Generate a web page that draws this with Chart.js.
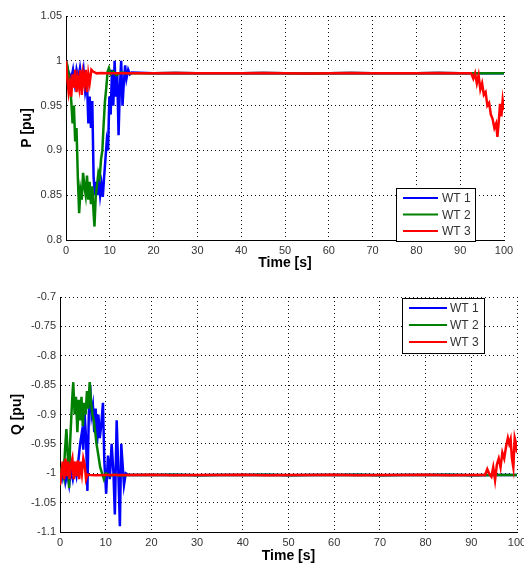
<!DOCTYPE html>
<html>
<head>
<meta charset="utf-8">
<script src="https://cdn.jsdelivr.net/npm/chart.js@4.4.0/dist/chart.umd.min.js"></script>
<style>
  body { margin: 0; background: #fff; overflow: hidden; width: 524px; height: 565px; }
  #grafico-p { position: absolute; left: 0; top: 0; }
  #grafico-q { position: absolute; left: 0; top: 280px; }
</style>
</head>
<body>
<canvas id="grafico-p" width="540" height="280"></canvas>
<canvas id="grafico-q" width="540" height="285"></canvas>
<script>
// series (tiempo en s, valores en pu)
var nombres = ['WT 1', 'WT 2', 'WT 3'];
var colores = ['#0000ff', '#008000', '#ff0000'];

var tP1 = [0,0.4,0.8,1.2,1.6,2,2.4,2.8,3.2,3.6,4,4.4,4.8,5.1,5.4,5.7,6,6.3,6.6,6.9,7.2,7.5,7.8,8.1,8.4,8.7,9,9.3,9.6,9.9,10.2,10.5,10.8,11.1,11.4,11.7,12,12.3,12.6,12.9,13.2,13.5,13.8,14.2,14.6,15,20,25,30,35,40,45,50,55,60,65,70,75,80,85,90,95,100];
var p1 = [1.0,0.99,0.985,0.98,0.99,0.975,0.99,0.98,0.992,0.978,0.99,0.965,0.975,0.93,0.96,0.925,0.955,0.87,0.85,0.865,0.85,0.868,0.85,0.862,0.848,0.87,0.89,0.91,0.9,0.96,0.94,0.99,0.95,1.0,0.96,0.985,0.917,0.97,1.0,0.95,0.975,0.995,0.98,0.99,0.985,0.987,0.986,0.9865,0.986,0.9862,0.986,0.9865,0.986,0.9858,0.986,0.9864,0.986,0.9862,0.986,0.9865,0.986,0.9862,0.986];

var tP2 = [0,0.3,0.6,0.9,1.2,1.5,1.8,2.1,2.4,2.7,3,3.3,3.6,3.9,4.2,4.5,4.8,5.1,5.4,5.7,6,6.3,6.5,6.8,7.1,7.4,7.7,8,8.3,8.6,8.9,9.2,9.5,9.8,10.2,10.8,11.5,12.5,14,20,25,30,35,40,45,50,55,60,65,70,75,80,85,90,95,100];
var p2 = [1.0,0.995,0.985,0.975,0.955,0.93,0.95,0.91,0.925,0.87,0.83,0.855,0.845,0.875,0.86,0.85,0.872,0.845,0.865,0.84,0.86,0.83,0.815,0.85,0.862,0.875,0.87,0.89,0.9,0.93,0.955,0.97,0.988,0.992,0.985,0.988,0.984,0.987,0.986,0.986,0.9865,0.986,0.9862,0.986,0.9865,0.986,0.9858,0.986,0.9864,0.986,0.9862,0.986,0.9865,0.986,0.9862,0.986];

var tP3 = [0,0.3,0.6,0.9,1.2,1.5,1.8,2.1,2.4,2.7,3,3.3,3.6,3.9,4.2,4.5,4.8,5.1,5.4,5.8,6.2,7,8,10,15,20,25,30,35,40,45,50,55,60,65,70,75,80,85,90,92.5,93,93.4,93.8,94.2,94.6,95,95.4,95.8,96.2,96.6,97,97.4,97.8,98.2,98.5,98.8,99.1,99.4,99.7,100];
var p3 = [1.0,0.98,0.965,0.975,0.96,0.985,0.97,0.99,0.965,0.98,0.97,0.99,0.962,0.985,0.975,0.99,0.965,0.985,0.975,0.99,0.988,0.986,0.9865,0.986,0.9862,0.986,0.9865,0.986,0.9862,0.986,0.9865,0.986,0.9858,0.986,0.9864,0.986,0.9862,0.986,0.9865,0.986,0.986,0.98,0.986,0.975,0.984,0.968,0.975,0.962,0.965,0.95,0.953,0.94,0.935,0.925,0.93,0.915,0.932,0.952,0.938,0.956,0.945];

var tQ1 = [0,0.4,0.8,1.2,1.6,2,2.4,2.8,3.2,3.6,4,4.4,4.8,5.1,5.4,5.7,6,6.3,6.6,6.9,7.2,7.5,7.8,8.1,8.4,8.7,9,9.4,9.7,10.1,10.5,10.9,11.3,11.7,12,12.4,12.7,13.1,13.4,13.7,14,14.4,15,20,25,30,35,40,45,50,55,60,65,70,75,80,85,90,95,100];
var q1 = [-1.0,-1.01,-0.99,-1.015,-1.0,-1.02,-0.995,-1.01,-0.99,-1.005,-0.98,-0.95,-0.93,-0.96,-0.9,-0.94,-1.03,-0.9,-0.85,-0.9,-0.885,-0.93,-0.89,-0.95,-0.9,-0.94,-0.92,-0.88,-0.98,-1.035,-0.97,-1.01,-0.95,-1.0,-1.07,-0.91,-0.98,-1.09,-0.95,-0.985,-1.02,-1.0,-1.003,-1.003,-1.0025,-1.0035,-1.003,-1.003,-1.0025,-1.0035,-1.003,-1.003,-1.0025,-1.0035,-1.003,-1.003,-1.0025,-1.0035,-1.003,-1.003];

var tQ2 = [0,0.4,0.8,1.1,1.4,1.7,2,2.2,2.5,2.7,2.9,3.2,3.5,3.8,4.1,4.4,4.7,5,5.3,5.6,5.9,6.2,6.5,6.8,7.1,7.4,7.7,8,8.4,8.8,9.2,9.6,10,11,12,13,15,20,25,30,35,40,45,50,55,60,65,70,75,80,85,90,95,100];
var q2 = [-1.0,-0.99,-1.005,-0.96,-0.925,-0.97,-1.025,-0.95,-0.9,-0.87,-0.845,-0.9,-0.87,-0.93,-0.875,-0.91,-0.87,-0.92,-0.88,-0.9,-0.86,-0.89,-0.845,-0.88,-0.9,-0.91,-0.93,-0.95,-0.97,-0.99,-1.0,-1.01,-1.0,-1.004,-1.002,-1.004,-1.003,-1.003,-1.0025,-1.0035,-1.003,-1.003,-1.0025,-1.0035,-1.003,-1.003,-1.0025,-1.0035,-1.003,-1.003,-1.0025,-1.0035,-1.003,-1.003];

var tQ3 = [0,0.3,0.6,0.9,1.2,1.5,1.8,2.1,2.4,2.7,3,3.3,3.6,3.9,4.2,4.5,4.8,5.1,5.4,5.7,6,6.5,8,10,15,20,25,30,35,40,45,50,55,60,65,70,75,80,85,90,93,93.5,94,94.4,94.8,95.2,95.6,96,96.4,96.8,97.2,97.6,98,98.3,98.6,98.9,99.2,99.5,99.8,100];
var q3 = [-1.02,-1.0,-0.98,-1.01,-0.975,-1.005,-0.98,-1.01,-0.985,-0.975,-1.01,-0.98,-1.005,-0.978,-1.01,-0.98,-1.0,-0.975,-0.985,-1.01,-1.002,-1.003,-1.0035,-1.003,-1.003,-1.0025,-1.0035,-1.003,-1.003,-1.0025,-1.0035,-1.003,-1.003,-1.0025,-1.0035,-1.003,-1.003,-1.0025,-1.0035,-1.003,-1.003,-0.993,-1.002,-1.006,-0.99,-1.012,-0.985,-0.975,-0.99,-0.965,-0.975,-0.955,-0.94,-0.95,-0.942,-0.975,-0.99,-0.94,-0.95,-0.965];

var ticksX = [0,10,20,30,40,50,60,70,80,90,100];

function pares(t, v) {
  var out = [];
  for (var i = 0; i < Math.min(t.length, v.length); i++) out.push({x: t[i], y: v[i]});
  return out;
}

function series(listas) {
  return listas.map(function(par, i) {
    return {
      label: nombres[i],
      data: pares(par[0], par[1]),
      borderColor: colores[i],
      borderWidth: 2.5,
      pointRadius: 0,
      fill: false,
      tension: 0,
      order: 3 - i   // WT 3 queda encima, como en matlab
    };
  });
}

// leyenda dentro del area del grafico, estilo matlab
var cajaLeyenda = {
  id: 'cajaLeyenda',
  afterDraw: function(chart, args, o) {
    var ctx = chart.ctx;
    ctx.save();
    ctx.fillStyle = '#fff';
    ctx.fillRect(o.x, o.y, o.w, o.h);
    ctx.strokeStyle = '#000';
    ctx.lineWidth = 1;
    ctx.strokeRect(o.x + 0.5, o.y + 0.5, o.w, o.h);
    ctx.font = '12px "Liberation Sans", Arial, sans-serif';
    ctx.textBaseline = 'middle';
    chart.data.datasets.forEach(function(ds, i) {
      var yy = o.y + o.first + i * o.gap;
      ctx.strokeStyle = ds.borderColor;
      ctx.lineWidth = 2;
      ctx.beginPath();
      ctx.moveTo(o.x + 7, yy);
      ctx.lineTo(o.x + 7 + o.len, yy);
      ctx.stroke();
      ctx.fillStyle = '#333';
      ctx.fillText(ds.label, o.x + o.textX, yy + 1);
    });
    ctx.restore();
  }
};

function ejes(ymin, ymax, anchoY, altoX, padTituloY, padTituloX, tituloY) {
  var fuenteTick = {family: '"Liberation Sans", Arial, sans-serif', size: 11};
  var fuenteTitulo = {family: '"Liberation Sans", Arial, sans-serif', size: 14, weight: 'bold'};
  return {
    x: {
      type: 'linear', min: 0, max: 100,
      afterBuildTicks: function(s) { s.ticks = ticksX.map(function(v) { return {value: v}; }); },
      afterFit: function(s) { s.height = altoX; },
      grid: { color: '#111', lineWidth: 1, drawTicks: false },
      border: { display: true, color: '#000', width: 1, dash: [1, 3] },
      ticks: { color: '#333', font: fuenteTick, padding: 4, maxRotation: 0 },
      title: { display: true, text: 'Time [s]', color: '#000', font: fuenteTitulo, padding: {top: 0, bottom: padTituloX} }
    },
    y: {
      type: 'linear', min: ymin, max: ymax,
      ticks: { stepSize: 0.05, color: '#333', font: fuenteTick, padding: 4,
        callback: function(v) { return String(Number(v.toFixed(2))); } },
      afterFit: function(s) { s.width = anchoY; },
      grid: { color: '#111', lineWidth: 1, drawTicks: false },
      border: { display: true, color: '#000', width: 1, dash: [1, 3] },
      title: { display: true, text: tituloY, color: '#000', font: fuenteTitulo, padding: {top: padTituloY, bottom: 0} }
    }
  };
}

Chart.defaults.font.family = '"Liberation Sans", Arial, sans-serif';

new Chart(document.getElementById('grafico-p').getContext('2d'), {
  type: 'line',
  data: { datasets: series([[tP1, p1], [tP2, p2], [tP3, p3]]) },
  options: {
    responsive: false,
    animation: false,
    layout: { padding: {left: 0, right: 36, top: 16, bottom: 0} },
    scales: ejes(0.8, 1.05, 66, 40, 19, 8, 'P [pu]'),
    plugins: {
      legend: { display: false },
      tooltip: { enabled: false },
      cajaLeyenda: { x: 396, y: 188, w: 79, h: 53, first: 10, gap: 16.5, len: 35, textX: 46 }
    }
  },
  plugins: [cajaLeyenda]
});

new Chart(document.getElementById('grafico-q').getContext('2d'), {
  type: 'line',
  data: { datasets: series([[tQ1, q1], [tQ2, q2], [tQ3, q3]]) },
  options: {
    responsive: false,
    animation: false,
    layout: { padding: {left: 0, right: 23, top: 17, bottom: 0} },
    scales: ejes(-1.1, -0.7, 60, 33, 9, 0, 'Q [pu]'),
    plugins: {
      legend: { display: false },
      tooltip: { enabled: false },
      cajaLeyenda: { x: 402, y: 18, w: 82, h: 55, first: 10, gap: 17, len: 38, textX: 48 }
    }
  },
  plugins: [cajaLeyenda]
});
</script>
</body>
</html>
